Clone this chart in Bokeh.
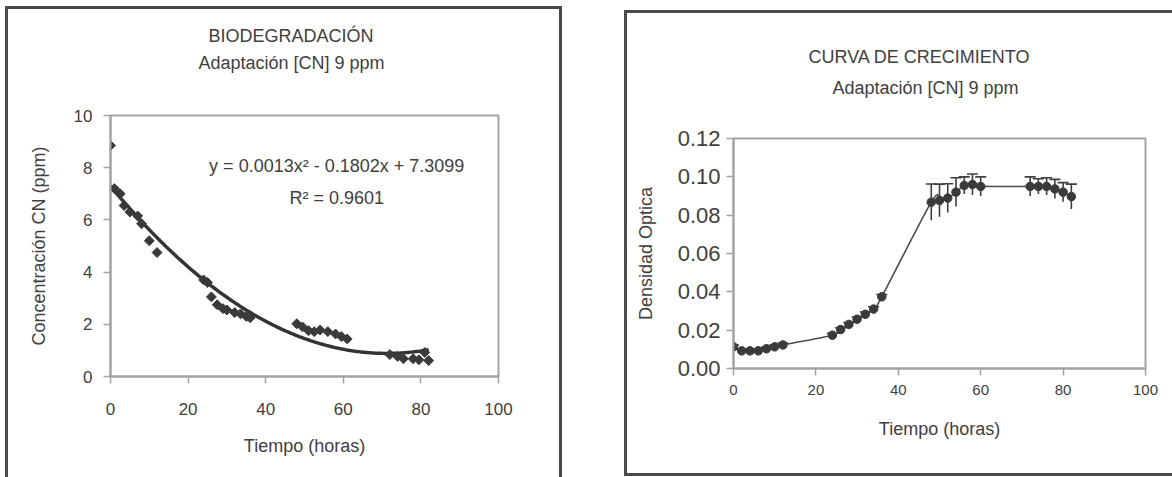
import numpy as np
from bokeh.plotting import figure
from bokeh.models import Label, Title, FixedTicker, NumeralTickFormatter
from bokeh.embed import file_html
from bokeh.resources import INLINE

# ---------------- data ----------------
# Left: biodegradation (CN concentration, ppm)
t_bio = [0, 1, 2.5, 3.5, 5, 7, 8, 10, 12,
         24, 25, 26, 27.5, 29, 30, 32, 33.5, 35, 36,
         48, 49.5, 51, 52.5, 54, 56, 58, 59.5, 61,
         72, 74, 75.5, 78, 79.5, 81, 82]
cn_bio = [8.85, 7.2, 7.0, 6.55, 6.3, 6.15, 5.85, 5.2, 4.75,
          3.7, 3.6, 3.05, 2.75, 2.6, 2.55, 2.45, 2.4, 2.3, 2.25,
          2.02, 1.9, 1.76, 1.72, 1.78, 1.72, 1.63, 1.53, 1.44,
          0.84, 0.77, 0.68, 0.68, 0.64, 0.92, 0.61]
eq_text = "y = 0.0013x\u00b2 - 0.1802x + 7.3099"
r2_text = "R\u00b2 = 0.9601"

# Right: growth curve (optical density)
t_grow = [0, 2, 4, 6, 8, 10, 12, 24, 26, 28, 30, 32, 34, 36,
          48, 50, 52, 54, 56, 58, 60, 72, 74, 76, 78, 80, 82]
od_grow = [0.0113, 0.0092, 0.0092, 0.0092, 0.0103, 0.0113, 0.0123,
           0.0174, 0.0203, 0.0230, 0.0257, 0.0283, 0.0310, 0.0374,
           0.0868, 0.0877, 0.0889, 0.0920, 0.0955, 0.0960, 0.0950,
           0.0950, 0.0950, 0.0950, 0.0937, 0.0920, 0.0897]
err_grow = [0.001, 0.0008, 0.0008, 0.0008, 0.0008, 0.001, 0.001,
            0.001, 0.001, 0.001, 0.0012, 0.0012, 0.0012, 0.0012,
            0.0095, 0.0085, 0.0075, 0.0075, 0.0045, 0.0055, 0.005,
            0.005, 0.004, 0.0045, 0.005, 0.005, 0.0065]

x_ticks = [0, 20, 40, 60, 80, 100]
y_ticks_bio = [0, 2, 4, 6, 8, 10]
y_ticks_grow = [0, 0.02, 0.04, 0.06, 0.08, 0.10, 0.12]

FONT = "Liberation Sans"
TXT = "#404040"
FRAME = "#a3a3a3"
MARK = "#3a3a3a"
BORDER = "3px solid #4a4a4a"


def style_axes(p, tick_size, ylab_standoff, xlab_standoff,
               ytick_standoff, xtick_standoff):
    p.grid.visible = False
    p.outline_line_color = FRAME
    p.outline_line_width = 2
    for ax in p.axis:
        ax.axis_line_color = FRAME
        ax.axis_line_width = 2
        ax.major_tick_line_color = FRAME
        ax.major_tick_line_width = 1.5
        ax.major_tick_out = 7
        ax.major_tick_in = 0
        ax.minor_tick_line_color = None
        ax.major_label_text_color = TXT
        ax.major_label_text_font = FONT
        ax.axis_label_text_color = TXT
        ax.axis_label_text_font = FONT
        ax.axis_label_text_font_size = "18px"
        ax.axis_label_text_font_style = "normal"
    p.yaxis.major_label_text_font_size = tick_size[0]
    p.xaxis.major_label_text_font_size = tick_size[1]
    p.yaxis.axis_label_standoff = ylab_standoff
    p.xaxis.axis_label_standoff = xlab_standoff
    p.yaxis.major_label_standoff = ytick_standoff
    p.xaxis.major_label_standoff = xtick_standoff


def add_titles(p, main, sub, main_off, sub_off, spacer, main_standoff):
    p.title.visible = False
    # spacer between frame and subtitle
    p.add_layout(Title(text=" ", text_font_size="1px", standoff=spacer,
                       text_color="white"), "above")
    p.add_layout(Title(text=sub, align="left", offset=sub_off,
                       standoff=0, text_font=FONT,
                       text_font_size="18px", text_font_style="normal",
                       text_color=TXT), "above")
    p.add_layout(Title(text=main, align="left", offset=main_off,
                       standoff=main_standoff, text_font=FONT,
                       text_font_size="18px", text_font_style="normal",
                       text_color=TXT), "above")


# ---------------- left panel ----------------
p1 = figure(frame_width=388, frame_height=261, x_range=(0, 100), y_range=(0, 10),
            output_backend="svg", toolbar_location=None,
            min_border_left=102, min_border_right=61,
            min_border_top=106, min_border_bottom=101,
            x_axis_label="Tiempo (horas)",
            y_axis_label="Concentraci\u00f3n CN (ppm)")
p1.xaxis.ticker = FixedTicker(ticks=x_ticks)
p1.yaxis.ticker = FixedTicker(ticks=y_ticks_bio)
style_axes(p1, ("17px", "17px"), 22, 18, 11, 19)
add_titles(p1, "BIODEGRADACI\u00d3N", "Adaptaci\u00f3n [CN] 9 ppm", 98, 88, 40, 10)

# polynomial (order 2) trendline fitted to the data
coef = np.polyfit(t_bio, cn_bio, 2)
xs = np.linspace(0, max(t_bio), 200)
p1.line(xs, np.polyval(coef, xs), line_color="#333333", line_width=3.5)
p1.scatter(t_bio, cn_bio, marker="square", angle=np.pi / 4, size=7,
           fill_color=MARK, line_color=MARK)

for txt, x, y in [(eq_text, 58.3, 8.08), (r2_text, 58.3, 6.82)]:
    p1.add_layout(Label(x=x, y=y, text=txt, text_align="center",
                        text_baseline="middle", text_font=FONT,
                        text_font_size="18px", text_color=TXT))

p1.styles = {"position": "absolute", "left": "5px", "top": "6px",
             "box-sizing": "content-box", "border-top": BORDER,
             "border-left": BORDER, "border-right": BORDER}

# ---------------- right panel ----------------
p2 = figure(frame_width=412, frame_height=230, x_range=(0, 100), y_range=(0, 0.12),
            output_backend="svg", toolbar_location=None,
            min_border_left=106, min_border_right=27,
            min_border_top=125, min_border_bottom=105,
            x_axis_label="Tiempo (horas)",
            y_axis_label="Densidad Optica")
p2.xaxis.ticker = FixedTicker(ticks=x_ticks)
p2.yaxis.ticker = FixedTicker(ticks=y_ticks_grow)
p2.yaxis.formatter = NumeralTickFormatter(format="0.00")
style_axes(p2, ("22px", "15px"), 19, 21, 6, 9)
add_titles(p2, "CURVA DE CRECIMIENTO", "Adaptaci\u00f3n [CN] 9 ppm", 75, 99, 38, 18)

# smoothed connecting line (Catmull-Rom style bezier through the data)
tx = np.array(t_grow, dtype=float)
ty = np.array(od_grow, dtype=float)
n = len(tx)
x0, y0, x1, y1, cx0, cy0, cx1, cy1 = [], [], [], [], [], [], [], []
for i in range(n - 1):
    ip = max(i - 1, 0)
    inn = min(i + 2, n - 1)
    x0.append(tx[i]); y0.append(ty[i])
    x1.append(tx[i + 1]); y1.append(ty[i + 1])
    cx0.append(tx[i] + (tx[i + 1] - tx[ip]) / 6)
    cy0.append(ty[i] + (ty[i + 1] - ty[ip]) / 6)
    cx1.append(tx[i + 1] - (tx[inn] - tx[i]) / 6)
    cy1.append(ty[i + 1] - (ty[inn] - ty[i]) / 6)
p2.bezier(x0=x0, y0=y0, x1=x1, y1=y1, cx0=cx0, cy0=cy0, cx1=cx1, cy1=cy1,
          line_color="#4d4d4d", line_width=1.6)

lo = [v - e for v, e in zip(od_grow, err_grow)]
hi = [v + e for v, e in zip(od_grow, err_grow)]
p2.segment(x0=t_grow, y0=lo, x1=t_grow, y1=hi, line_color="#3f3f3f", line_width=1.6)
p2.scatter(t_grow, hi, marker="dash", size=11, line_color="#3f3f3f", line_width=1.6)
p2.scatter(t_grow, od_grow, marker="circle", size=8.5, fill_color=MARK, line_color=MARK)

p2.styles = {"position": "absolute", "left": "624px", "top": "10px",
             "box-sizing": "content-box", "border-top": BORDER,
             "border-left": BORDER, "border-bottom": BORDER}

open("out.html", "w").write(file_html([p1, p2], INLINE))
